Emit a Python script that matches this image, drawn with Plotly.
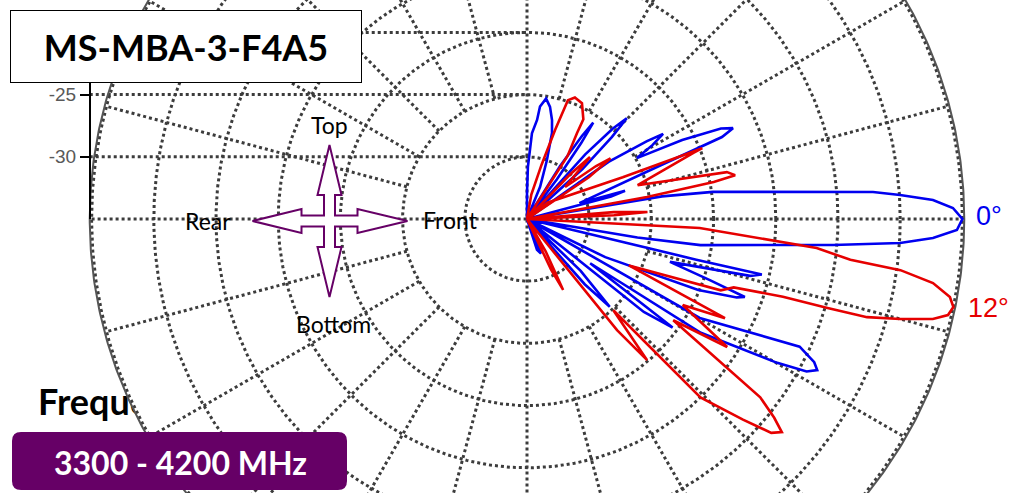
import numpy as np
import plotly.graph_objects as go

# ---------------- data (angle in degrees from "Front", level in dB) ----------------
BLUE_ANG = [90, 90, 89, 86.7, 84.2, 83.4, 81.0, 78.4, 75.8, 73.8, 71.3, 67.9, 65,
            58, 56.5, 55.5, 54.5, 53, 50,
            48, 46.5, 45.3, 44.0, 42, 40,
            35, 33, 32, 30.5, 29,
            27, 25, 23.8, 22.8, 21.8, 16.8,
            16.0, 15.0, 13,
            9.5, 8.3, 6.1, 4.46, 3.68, 2.68, 1.48, 0, -1.47, -2.68, -3.68, -4.86, -6.18,
            -8.55, -9.5, -10,
            -13.5, -13.3, -14.3, -16.7, -18.5, -19.7, -20.5, -22.5, -26, -28,
            -29.8, -25.1, -26.5, -27.5, -28.6, -29.9, -33.2, -35,
            -36.7, -38.5, -41,
            -44, -46.7, -48.5, -52,
            -68, -72, -75]
BLUE_DB = [-35, -32.9, -30.8, -28.1, -27.0, -25.9, -25.2, -25.8, -26.8, -27.8, -30.0, -32.2, -35,
           -30.0, -27.0, -25.6, -27.5, -31, -35,
           -28, -25, -23.6, -25.5, -29, -35,
           -27, -23.5, -22.1, -23.3, -24.9,
           -21, -17.8, -16.9, -18.0, -23.7, -30.6,
           -26.8, -28, -35,
           -24, -19.9, -14.55, -7.1, -4.95, -2.33, -0.75, 0, -0.43, -2.33, -4.95, -10.3, -15.6,
           -20.9, -26, -35,
           -21, -15.6, -16.5, -23, -19.5, -16.4, -17, -20.1, -28, -35,
           -19.0, -10.8, -9.2, -8.7, -9.4, -11.8, -18.3, -28.8,
           -20.4, -23, -35,
           -29, -25.3, -28, -35,
           -32, -32.4, -35]

RED_ANG = [90, 80, 75, 72.5, 71, 68.5, 64.6, 60.5, 59.8, 57.2, 54,
           46, 44.5, 42.5, 40, 37.5, 36, 34, 30,
           38.7, 23.6, 22.0, 21.7, 17, 13.2, 11.9, 11.2, 10.4, 8,
           4.5, 3.3, 2.5, 1,
           -3, -4.7, -5.7, -7.2, -7.8, -8.96, -10.45, -11.67, -12.85, -13.84, -15.0, -16.1,
           -16.5, -16.9, -18.3, -20.2, -24.5,
           -26.6, -28.9, -32.6, -34.7, -37.4, -38.8, -39.9, -41.2, -42.9, -45.8, -46.6,
           -49.6, -51, -54,
           -60, -63, -64.5, -67]
RED_DB = [-35, -33, -30.5, -27.5, -24.9, -24.5, -24.7, -25.8, -27, -29, -35,
          -30, -27.9, -29.5, -31, -28, -26.7, -29, -35,
          -32.9, -26.6, -19.8, -20.6, -25.7, -18.5, -17.9, -19.7, -25.2, -35,
          -28, -25.3, -28, -35,
          -21.1, -16.2, -11.6, -8.8, -4.7, -1.96, -0.43, 0, -0.29, -1.4, -3.96, -6.55,
          -9.8, -13.5, -17.5, -18.4, -26,
          -17.2, -20.7, -15.9, -20.7, -11.4, -9.5, -8.3, -8.9, -11.3, -15.0, -24.9,
          -20.1, -23.5, -35,
          -32, -28.6, -30.5, -35]

SERIES_NAMES = ["0°", "12°"]
RING_DB = [-30, -25, -20, -15, -10, -5, 0]
SPOKE_ANG = list(range(0, 360, 15))
AXIS_TICK_DB = [-30, -25, -20]
FLOOR_DB = -35
TITLE = "MS-MBA-3-F4A5"
BAND = "3300 - 4200 MHz"
DIRS = ["Top", "Bottom", "Rear", "Front"]

assert len(BLUE_ANG) == len(BLUE_DB) and len(RED_ANG) == len(RED_DB)

# ---------------- geometry / style ----------------
W, H = 1013, 493
S = 12.44            # px per dB
CX, CY = 527, 219    # pattern centre in px
RMAX = 0 - FLOOR_DB
GRID = "#3c3c3c"
BLUE, RED, PURPLE = "#0000F0", "#E60000", "#660066"


def px(x, y):
    return (x - CX) / S, (CY - y) / S


def pp(x, y):
    return x / W, 1 - y / H


def to_xy(ang, db):
    rho = np.clip(np.asarray(db, float) - FLOOR_DB, 0, None)
    t = np.radians(np.asarray(ang, float))
    return rho * np.cos(t), rho * np.sin(t)


fig = go.Figure()

# "Frequency" label (partly hidden by the plot disk, as in the original)
fx, fy = px(38, 406)
fig.add_trace(go.Scatter(x=[fx], y=[fy], mode="text", text=["<b>Frequency</b>"],
                         textposition="middle right", hoverinfo="skip",
                         textfont=dict(family="Lato", size=36, color="black")))

# white disk
t = np.linspace(0, 2 * np.pi, 721)
R_OUT = RMAX + 0.15
fig.add_trace(go.Scatter(x=R_OUT * np.cos(t), y=R_OUT * np.sin(t), mode="lines",
                         fill="toself", fillcolor="white", line=dict(width=0),
                         hoverinfo="skip"))

# rings
gx, gy = [], []
for db in RING_DB:
    r = db - FLOOR_DB
    gx += list(r * np.cos(t)) + [None]
    gy += list(r * np.sin(t)) + [None]
# spokes
for a in SPOKE_ANG:
    ar = np.radians(a)
    if a % 90 == 0:
        continue
    r0 = RING_DB[1] - FLOOR_DB
    gx += [r0 * np.cos(ar), RMAX * np.cos(ar), None]
    gy += [r0 * np.sin(ar), RMAX * np.sin(ar), None]
# diameters
gx += [-RMAX, RMAX, None, 0, 0, None]
gy += [0, 0, None, -RMAX, RMAX, None]
# value-axis gridlines (from the left axis to the centre line)
for db in AXIS_TICK_DB:
    r = db - FLOOR_DB
    gx += [-R_OUT, 0, None]
    gy += [r, r, None]
fig.add_trace(go.Scatter(x=gx, y=gy, mode="lines", hoverinfo="skip",
                         line=dict(color=GRID, width=3, dash="dot")))

# outer solid circle
fig.add_trace(go.Scatter(x=R_OUT * np.cos(t), y=R_OUT * np.sin(t), mode="lines",
                         hoverinfo="skip", line=dict(color="#555555", width=2)))

# patterns
bx, by = to_xy(BLUE_ANG, BLUE_DB)
rx, ry = to_xy(RED_ANG, RED_DB)
fig.add_trace(go.Scatter(x=bx, y=by, mode="lines", name=SERIES_NAMES[0],
                         line=dict(color=BLUE, width=2.6)))
fig.add_trace(go.Scatter(x=rx, y=ry, mode="lines", name=SERIES_NAMES[1],
                         line=dict(color=RED, width=2.6)))

# dummy trace for the value axis
fig.add_trace(go.Scatter(x=[None], y=[None], xaxis="x2", yaxis="y2", hoverinfo="skip"))

# ---------------- direction arrow ----------------
ACX, ACY = 329.5, 221
arrow_pts = [(0, -76), (12, -26), (5.5, -26), (5.5, -5.5), (28, -5.5), (28, -12), (78, 0),
             (28, 12), (28, 5.5), (5.5, 5.5), (5.5, 26), (12, 26), (0, 76), (-12, 26),
             (-5.5, 26), (-5.5, 5.5), (-28, 5.5), (-28, 12), (-77, 0), (-28, -12),
             (-28, -5.5), (-5.5, -5.5), (-5.5, -26), (-12, -26)]
path = ""
for i, (dx, dy) in enumerate(arrow_pts):
    X, Y = px(ACX + dx, ACY + dy)
    path += ("M" if i == 0 else "L") + f"{X:.4f},{Y:.4f} "
path += "Z"
shapes = [dict(type="path", path=path, xref="x", yref="y", layer="above",
               line=dict(color=PURPLE, width=2), fillcolor="white")]

# purple rounded box
x0, y0, x1, y1, rr = 12, 432, 347, 490, 9


def P(x, y):
    a, b = pp(x, y)
    return f"{a:.5f},{b:.5f}"


box = (f"M{P(x0 + rr, y0)} L{P(x1 - rr, y0)} Q{P(x1, y0)} {P(x1, y0 + rr)} "
       f"L{P(x1, y1 - rr)} Q{P(x1, y1)} {P(x1 - rr, y1)} L{P(x0 + rr, y1)} "
       f"Q{P(x0, y1)} {P(x0, y1 - rr)} L{P(x0, y0 + rr)} Q{P(x0, y0)} {P(x0 + rr, y0)} Z")
shapes.append(dict(type="path", path=box, xref="paper", yref="paper", layer="above",
                   line=dict(width=0), fillcolor=PURPLE))

# ---------------- annotations ----------------
ann = []


def add_text(x, y, text, size, color="black", family="Lato", **kw):
    a, b = pp(x, y)
    ann.append(dict(x=a, y=b, xref="paper", yref="paper", text=text, showarrow=False,
                    xanchor="center", yanchor="middle",
                    font=dict(family=family, size=size, color=color), **kw))


add_text(186, 46.5, f"<b>{TITLE}</b>", 36, bgcolor="white", bordercolor="black",
         borderwidth=1, borderpad=1, width=348, height=69)
add_text(180, 462, f"<b>{BAND}</b>", 32, color="white")
add_text(329, 125, DIRS[0], 23)
add_text(333, 324, DIRS[1], 23)
add_text(208, 221, DIRS[2], 23)
add_text(450, 220, DIRS[3], 23)
add_text(989, 216, SERIES_NAMES[0], 27, color=BLUE, family="Liberation Sans")
add_text(988, 308, SERIES_NAMES[1], 27, color=RED, family="Liberation Sans")

# the "-20" label sits under the title box in the original, so it is not shown
tick_text = [str(d) if d != -20 else "" for d in AXIS_TICK_DB]

fig.update_layout(
    width=W, height=H, margin=dict(l=0, r=0, t=0, b=0),
    paper_bgcolor="white", plot_bgcolor="rgba(0,0,0,0)", showlegend=False,
    xaxis=dict(range=[(0 - CX) / S, (W - CX) / S], visible=False),
    yaxis=dict(range=[(CY - H) / S, CY / S], visible=False),
    xaxis2=dict(domain=[0, 1], anchor="y2", visible=False, range=[0, 1]),
    yaxis2=dict(domain=[1 - CY / H, 1 - 12 / H], anchor="free", position=90 / W,
                range=[0, (CY - 12) / S], showline=True, linecolor="black", linewidth=2,
                ticks="outside", ticklen=9, tickwidth=2, tickcolor="black",
                tickvals=[d - FLOOR_DB for d in AXIS_TICK_DB],
                ticktext=tick_text,
                tickfont=dict(family="Liberation Sans", size=19, color="#595959"),
                showgrid=False, zeroline=False),
    shapes=shapes, annotations=ann,
)

fig.write_html("out.html", config={"displayModeBar": False},
               post_script="document.body.style.margin='0';document.body.style.overflow='hidden';")
